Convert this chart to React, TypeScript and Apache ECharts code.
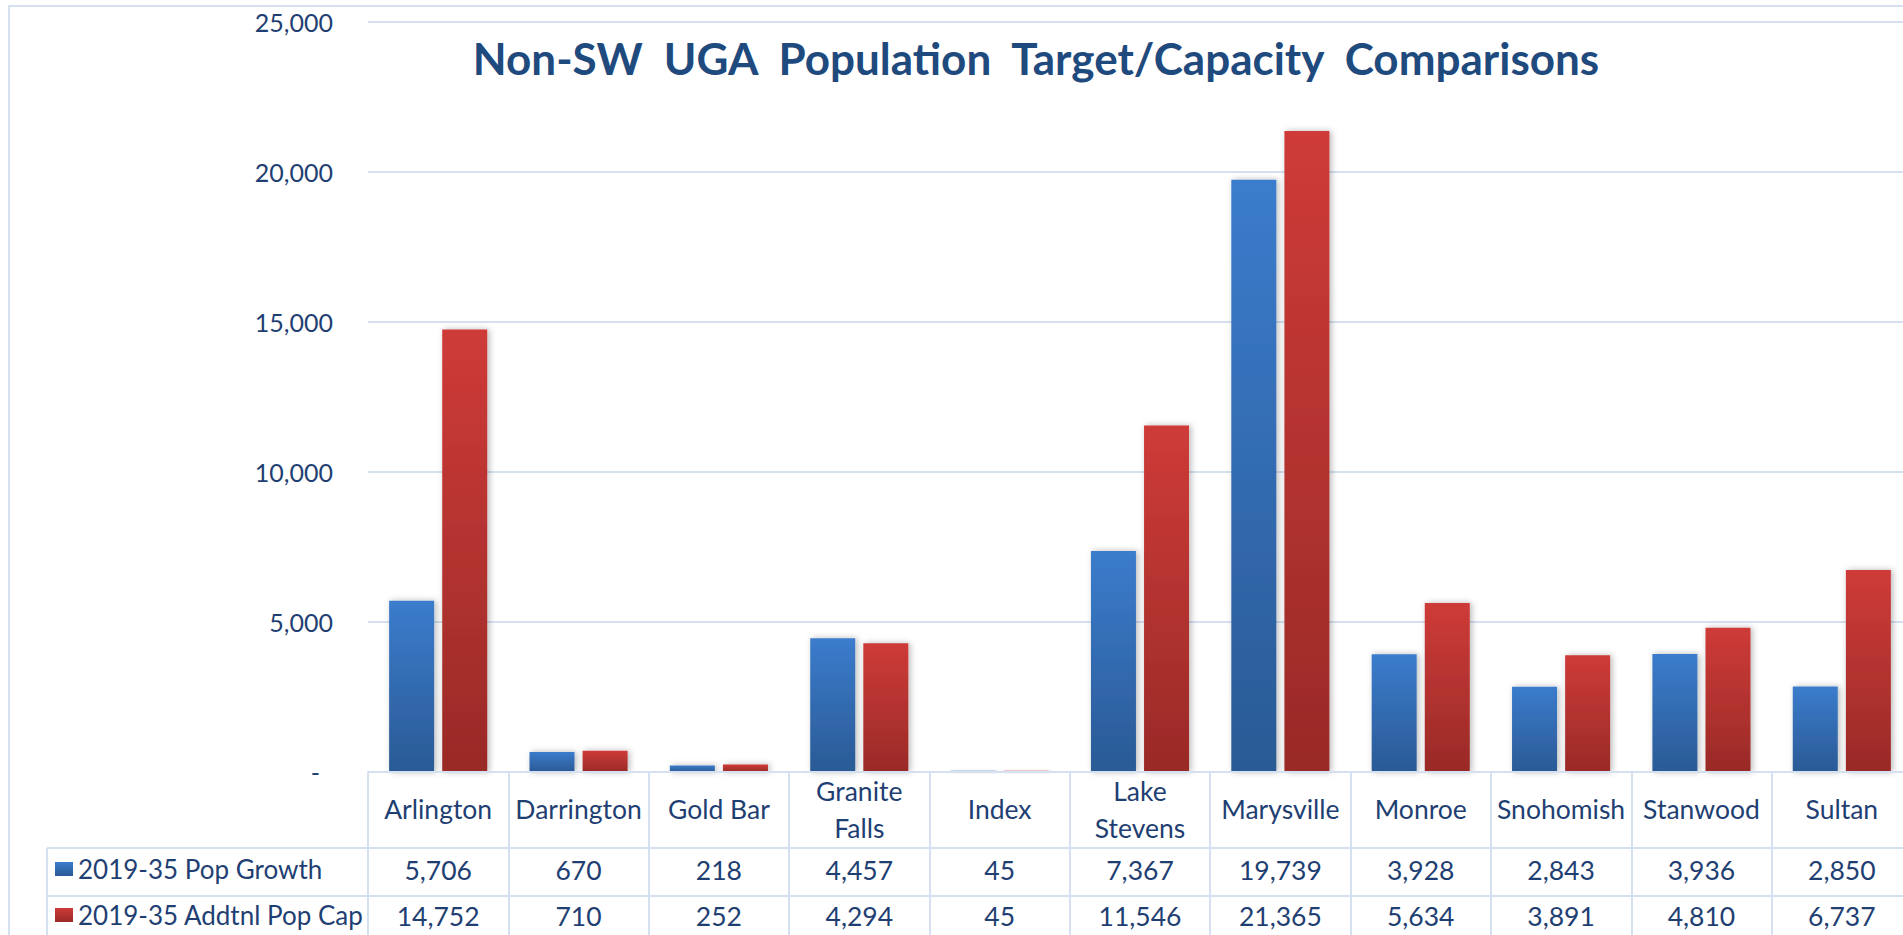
import React, { useEffect, useRef } from "react";
import * as echarts from "echarts";

const categories = [
  "Arlington",
  "Darrington",
  "Gold Bar",
  "Granite\nFalls",
  "Index",
  "Lake\nStevens",
  "Marysville",
  "Monroe",
  "Snohomish",
  "Stanwood",
  "Sultan",
];
const popGrowth = [5706, 670, 218, 4457, 45, 7367, 19739, 3928, 2843, 3936, 2850];
const addtnlPopCap = [14752, 710, 252, 4294, 45, 11546, 21365, 5634, 3891, 4810, 6737];
const seriesNames = ["2019-35 Pop Growth", "2019-35 Addtnl Pop Cap"];
const titleText = "Non-SW  UGA  Population  Target/Capacity  Comparisons";

const FONT = "Lato";
const TEXT = "#1F3F73";
const LINE = "#D5E1F1";
const TFS = 26.5;

const fmt = (v: number) => v.toLocaleString("en-US");

export default function App() {
  const ref = useRef<HTMLDivElement>(null);
  useEffect(() => {
    if (!ref.current) return;
    const chart = echarts.init(ref.current, null, { renderer: "svg" });
    const blueGrad = new echarts.graphic.LinearGradient(0, 0, 0, 1, [
      { offset: 0, color: "#3B7CCC" },
      { offset: 1, color: "#2A5A95" },
    ]);
    const redGrad = new echarts.graphic.LinearGradient(0, 0, 0, 1, [
      { offset: 0, color: "#CE3B38" },
      { offset: 1, color: "#992A27" },
    ]);
    const shadow = {
      shadowBlur: 6,
      shadowColor: "rgba(0,0,0,0.28)",
      shadowOffsetX: 2,
      shadowOffsetY: 0,
    };
    const txt = (lh: number) => ({ fontSize: TFS, lineHeight: lh, color: TEXT, fontFamily: FONT });
    const option: any = {
      animation: false,
      textStyle: { fontFamily: FONT },
      title: {
        text: titleText,
        left: 1036,
        top: 36,
        textAlign: "center",
        padding: 0,
        textStyle: {
          fontFamily: FONT,
          fontWeight: "bold",
          fontSize: 44,
          color: "#1F4A7E",
        },
      },
      legend: {
        orient: "vertical",
        left: 55,
        top: 856,
        padding: 0,
        itemWidth: 18,
        itemHeight: 14,
        itemGap: 20,
        icon: "rect",
        textStyle: { fontFamily: FONT, fontSize: 26, color: TEXT, lineHeight: 26 },
        itemStyle: { shadowBlur: 0, shadowColor: "transparent" },
        data: seriesNames,
      },
      grid: { left: 368, right: 8, top: 22, height: 750, containLabel: false },
      xAxis: {
        type: "category",
        data: categories,
        z: 10,
        axisLine: { show: true, lineStyle: { color: LINE, width: 2 } },
        axisTick: {
          show: true,
          interval: 0,
          length: 170,
          lineStyle: { color: LINE, width: 2 },
        },
        axisLabel: {
          interval: 0,
          margin: 0,
          color: TEXT,
          fontFamily: FONT,
          formatter: (value: string, idx: number) => {
            const parts = value.split("\n");
            const catPart =
              parts.length === 1
                ? `{c1|${parts[0]}}`
                : `{c2a|${parts[0]}}\n{c2b|${parts[1]}}`;
            return `${catPart}\n{v1|${fmt(popGrowth[idx])}}\n{v2|${fmt(addtnlPopCap[idx])}}`;
          },
          rich: {
            c1: txt(74),
            c2a: txt(37),
            c2b: txt(37),
            v1: txt(48),
            v2: txt(44),
          },
        },
      },
      yAxis: {
        type: "value",
        min: 0,
        max: 25000,
        interval: 5000,
        axisLine: { show: false },
        axisTick: { show: false },
        splitLine: { show: true, lineStyle: { color: LINE, width: 2 } },
        axisLabel: {
          margin: 35,
          color: TEXT,
          fontFamily: FONT,
          fontSize: 25,
          formatter: (v: number) => (v === 0 ? "{z|-}" : fmt(v)),
          rich: { z: { fontSize: 25, color: TEXT, padding: [0, 13, 0, 0] } },
        },
      },
      series: [
        {
          name: seriesNames[0],
          type: "bar",
          data: popGrowth,
          barWidth: 45,
          barGap: "18%",
          itemStyle: { color: blueGrad, ...shadow },
        },
        {
          name: seriesNames[1],
          type: "bar",
          data: addtnlPopCap,
          barWidth: 45,
          barGap: "18%",
          itemStyle: { color: redGrad, ...shadow },
        },
      ],
      graphic: [
        {
          type: "rect",
          shape: { x: 9, y: 6, width: 3000, height: 3000 },
          style: { fill: "none", stroke: LINE, lineWidth: 2 },
          silent: true,
        },
        {
          type: "line",
          shape: { x1: 47, y1: 848, x2: 3000, y2: 848 },
          style: { stroke: LINE, lineWidth: 2 },
          silent: true,
        },
        {
          type: "line",
          shape: { x1: 47, y1: 896, x2: 3000, y2: 896 },
          style: { stroke: LINE, lineWidth: 2 },
          silent: true,
        },
        {
          type: "line",
          shape: { x1: 47, y1: 848, x2: 47, y2: 1000 },
          style: { stroke: LINE, lineWidth: 2 },
          silent: true,
        },
      ],
    };
    chart.setOption(option);
    return () => chart.dispose();
  }, []);
  return (
    <div
      style={{
        position: "absolute",
        left: 0,
        top: 0,
        width: 1903,
        height: 935,
        overflow: "hidden",
        background: "#fff",
      }}
    >
      <div ref={ref} style={{ width: 1920, height: 935 }} />
    </div>
  );
}
